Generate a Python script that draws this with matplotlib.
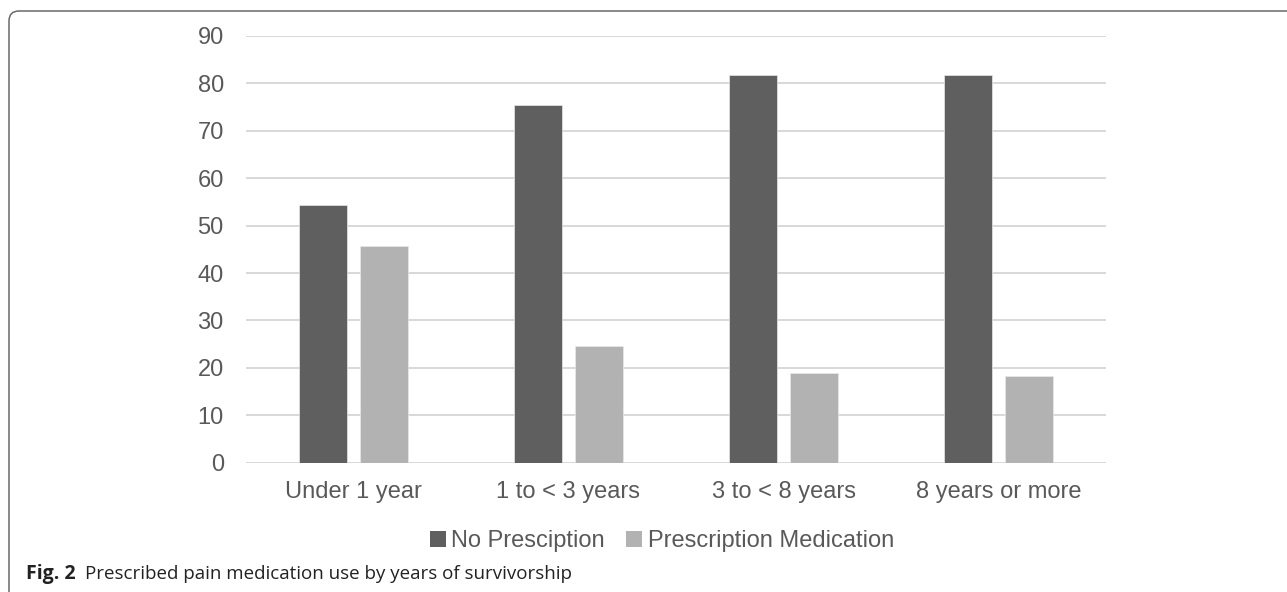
import matplotlib
matplotlib.use("Agg")
import matplotlib.pyplot as plt
import numpy as np
from matplotlib.patches import FancyBboxPatch, Patch
from matplotlib.transforms import IdentityTransform

# Survivorship groups and share of respondents (%) in each medication group
categories = ["Under 1 year", "1 to < 3 years", "3 to < 8 years", "8 years or more"]
no_prescription = [54.3, 75.4, 81.8, 81.7]
prescription_medication = [45.7, 24.6, 18.8, 18.3]
series_names = ["No Presciption", "Prescription Medication"]
y_ticks = [0, 10, 20, 30, 40, 50, 60, 70, 80, 90]

dark = "#5f5f5f"
light = "#b2b2b2"
text_col = "#595959"
grid_col = "#d6d6d6"

W, H, DPI = 1287, 592, 100
fig = plt.figure(figsize=(W / DPI, H / DPI), dpi=DPI)
fig.patch.set_facecolor("white")

left, right = 246 / W, 1106 / W
bottom, top = (H - 462.6) / H, (H - 36) / H
ax = fig.add_axes([left, bottom, right - left, top - bottom])

x = np.arange(len(categories))
bw = 0.225
off = 0.143
ax.bar(x - off, no_prescription, width=bw, color=dark, edgecolor="#e8e8e8",
       linewidth=0.5, zorder=3)
ax.bar(x + off, prescription_medication, width=bw, color=light, edgecolor="#e8e8e8",
       linewidth=0.5, zorder=3)

ax.set_xlim(-0.5, len(categories) - 0.5)
ax.set_ylim(0, 90)
ax.set_yticks(y_ticks)
ax.set_xticks(x)
ax.set_xticklabels(categories)
ax.grid(axis="y", color=grid_col, linewidth=1.3, zorder=0)
ax.set_axisbelow(True)
for s in ax.spines.values():
    s.set_visible(False)
ax.tick_params(axis="both", length=0, labelsize=17, labelcolor=text_col)
ax.tick_params(axis="y", pad=16)
ax.tick_params(axis="x", pad=13)
for lab in ax.get_xticklabels() + ax.get_yticklabels():
    lab.set_fontfamily("Liberation Sans")

handles = [Patch(facecolor=dark, edgecolor="none"), Patch(facecolor=light, edgecolor="none")]
fig.legend(handles, series_names, loc="center", bbox_to_anchor=(662 / W, (H - 541) / H),
           ncol=2, frameon=False, handlelength=0.65, handleheight=0.65, handletextpad=0.25,
           columnspacing=0.9,
           prop={"family": "Liberation Sans", "size": 17}, labelcolor=text_col)

# caption
cap_y = (H - 579) / H
t1 = fig.text(26 / W, cap_y, "Fig. 2", fontsize=14, fontweight="bold",
              family="Open Sans", color="#222222", va="baseline", ha="left")
fig.canvas.draw()
bb = t1.get_window_extent()
fig.text((bb.x1 + 9) / W, cap_y, "Prescribed pain medication use by years of survivorship",
         fontsize=13.5, family="Open Sans", color="#222222", va="baseline", ha="left")

# rounded frame around the figure
frame = FancyBboxPatch((9, -12), 1400, H - 11 + 12,
                       boxstyle="round,pad=0,rounding_size=10",
                       transform=IdentityTransform(), facecolor="none",
                       edgecolor="#6a6a6a", linewidth=1.1)
fig.patches.append(frame)

fig.savefig("out.png", dpi=DPI)
